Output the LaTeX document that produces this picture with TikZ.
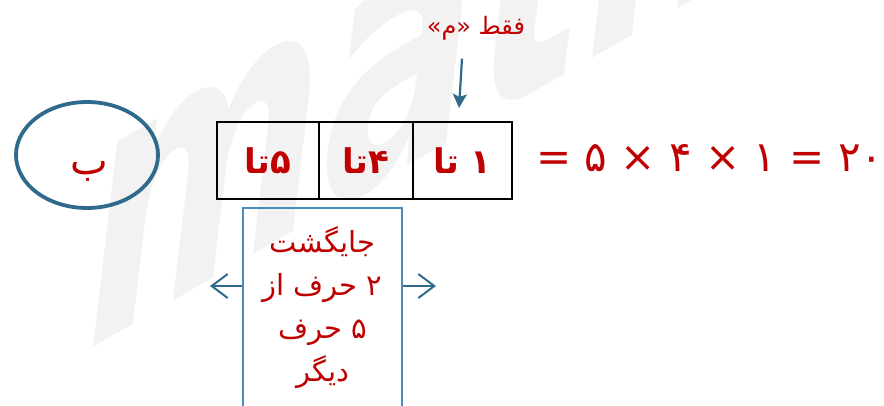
\documentclass[tikz,border=0pt]{standalone}
\usepackage{fontspec}
\usepackage{tikz}
\usetikzlibrary{positioning}
\usetikzlibrary{shapes.geometric}
\usetikzlibrary{arrows.meta}
\newfontfamily\farsi[Script=Arabic]{DejaVu Sans}
\newfontfamily\markfont{DejaVu Sans}
\TeXXeTstate=1
\definecolor{darkred}{HTML}{C00000}
\definecolor{inkblue}{HTML}{2F6A8C}
\definecolor{boxblue}{HTML}{4A8DBD}

\begin{document}
\begin{tikzpicture}[x=1pt,y=-1pt,
        wmark/.style={font=\markfont\bfseries\itshape\fontsize{350}{350}\selectfont,text=black!5,yslant=0.58,xscale=0.65,inner sep=0pt},
        ring/.style={ellipse,draw=inkblue,line width=3.8pt,minimum width=142pt,minimum height=106pt},
        letter/.style={text=darkred,font=\farsi\fontsize{40}{40}\selectfont},
        cell/.style={draw,line width=2.8pt,minimum height=77pt,outer sep=0pt,text=darkred,font=\farsi\bfseries\fontsize{34}{34}\selectfont},
        note/.style={text=darkred,font=\farsi\fontsize{24}{24}\selectfont},
        eqn/.style={text=darkred,font=\farsi\fontsize{42}{42}\selectfont,inner sep=0pt},
        frame/.style={draw=boxblue,line width=1.8pt,minimum width=159pt,minimum height=200pt,align=center,text=darkred,font=\farsi\fontsize{29}{43}\selectfont},
        pointer/.style={draw=inkblue,line width=2.2pt,-{Stealth[length=14pt,width=14pt,inset=3pt]}},
        side/.style={draw=inkblue,line width=2pt,-{Straight Barb[length=16pt,width=24pt]}}]
    \useasboundingbox (0,0) rectangle (884,405);
    % watermark
    \begin{scope}
        \clip (0,0) rectangle (884,405);
        \node[wmark,anchor=base west] (logo) at (86,352) {math};
    \end{scope}

    \node[ring] (beh) at (87,155) {};
    \node[letter] (behtext) at (89,171) {ب};

    \node[cell,minimum width=102pt] (c5) at (268,160.5) {\beginR ۵تا\endR};
    \node[cell,minimum width=94pt,right=0pt of c5] (c4) {\beginR ۴تا\endR};
    \node[cell,minimum width=99pt,right=0pt of c4] (c1) {\beginR ۱ تا\endR};

    \node[note] (only) at (476,28) {\beginR فقط «م»\endR};
    \coordinate (tip) at (459,108);
    \draw[pointer] ([xshift=-14pt,yshift=-15pt]only.south) -- (tip);

    \node[eqn,anchor=west] (total) at (536,158) {\beginL = ۵ × ۴ × ۱ = ۲۰\endL};

    \node[frame,anchor=north] (perm) at (322.5,207)
        {\beginR جایگشت\endR\\ \beginR ۲ حرف از\endR\\ \beginR ۵ حرف\endR\\ \beginR دیگر\endR};
    \coordinate (lt) at (210,286);
    \coordinate (rt) at (436,286);
    \draw[side] (perm.west |- lt) -- (lt);
    \draw[side] (perm.east |- rt) -- (rt);
\end{tikzpicture}
\end{document}
